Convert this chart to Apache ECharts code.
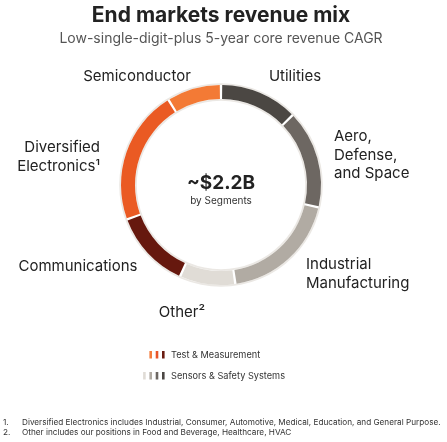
<!DOCTYPE html>
<html>
<head>
<meta charset="utf-8">
<script src="https://cdn.jsdelivr.net/npm/echarts@6/dist/echarts.min.js"></script>
<style>
  html, body { margin: 0; padding: 0; background: #fff; }
  #chart { width: 447px; height: 442px; }
</style>
</head>
<body>
<div id="chart"></div>
<script>
// end markets, clockwise from 12 o'clock (share of revenue, %)
var markets = ['Utilities', 'Aero,\nDefense,\nand Space', 'Industrial\nManufacturing', 'Other²',
               'Communications', 'Diversified\nElectronics¹', 'Semiconductor'];
var shares = [12.7, 15.9, 19.1, 9.0, 12.7, 21.8, 8.8];
var colors = ['#4b4743', '#6d6762', '#b1aba3', '#e0dcd6', '#66180e', '#ea5a23', '#f37a35'];

// where each label sits, and how it is aligned
var labelAnchor = [
  [295, 76, 'center'], [334, 155, 'left'], [306, 274, 'left'], [182, 312, 'center'],
  [78, 266, 'center'], [100, 157, 'right'], [137, 76, 'center']
];

var segments = [
  { name: 'Test & Measurement', colors: ['#f47c3c', '#e8552a', '#6b1d12'] },
  { name: 'Sensors & Safety Systems', colors: ['#e0dcd6', '#b1aba3', '#6d6762', '#4b4743'] }
];

var footnotes = [
  ['1.', 'Diversified Electronics includes Industrial, Consumer, Automotive, Medical, Education, and General Purpose.'],
  ['2.', 'Other includes our positions in Food and Beverage, Healthcare, HVAC']
];

var font = 'Inter, "Noto Sans", sans-serif';
var center = [221, 185];

document.addEventListener('DOMContentLoaded', function () {
  var myChart = echarts.init(document.getElementById('chart'));

  // custom legend with striped swatches
  var legendEls = [];
  segments.forEach(function (seg, i) {
    var y = 351 + i * 21;
    var n = seg.colors.length;
    seg.colors.forEach(function (c, j) {
      legendEls.push({
        type: 'rect',
        shape: { x: 162 - (n - 1 - j) * 6.3, y: y, width: 2.6, height: 7.5 },
        style: { fill: c }
      });
    });
    legendEls.push({
      type: 'text', x: 171, y: y + 4,
      style: { text: seg.name, font: '9.2px ' + font, fill: '#333', verticalAlign: 'middle' }
    });
  });

  footnotes.forEach(function (f, i) {
    var y = 423 + i * 9.5;
    legendEls.push({ type: 'text', x: 3, y: y,
      style: { text: f[0], font: '8.2px ' + font, fill: '#333', verticalAlign: 'middle' } });
    legendEls.push({ type: 'text', x: 22, y: y,
      style: { text: f[1], font: '8.2px ' + font, fill: '#333', verticalAlign: 'middle' } });
  });

  var option = {
    backgroundColor: '#fff',
    animation: false,
    title: [{
      text: 'End markets revenue mix',
      subtext: 'Low-single-digit-plus 5-year core revenue CAGR',
      left: 216,
      textAlign: 'center',
      top: 0,
      itemGap: 6,
      textStyle: { fontFamily: font, fontSize: 21, fontWeight: 'bold', color: '#222' },
      subtextStyle: { fontFamily: font, fontSize: 14, color: '#555' }
    }, {
      text: '~$2.2B',
      subtext: 'by Segments',
      left: 216, top: 169,
      textAlign: 'center',
      itemGap: 3,
      textStyle: { fontFamily: font, fontSize: 19, fontWeight: 'bold', color: '#222' },
      subtextStyle: { fontFamily: font, fontSize: 10, color: '#333' }
    }],
    graphic: legendEls,
    series: [
      {
        // thin light track around the ring
        type: 'pie', silent: true, center: center, radius: [100, 101.8],
        label: { show: false }, itemStyle: { color: '#ebe8e4' },
        data: [1]
      },
      {
        type: 'pie', silent: true, center: center, radius: [84.2, 86],
        label: { show: false }, itemStyle: { color: '#ebe8e4' },
        data: [1]
      },
      {
        name: 'End markets',
        type: 'pie',
        center: center,
        radius: [86, 100],
        startAngle: 90,
        clockwise: true,
        padAngle: 1.4,
        avoidLabelOverlap: false,
        label: {
          show: true,
          position: 'outside',
          formatter: '{b}',
          fontFamily: font,
          fontSize: 15,
          lineHeight: 18.5,
          color: '#222'
        },
        labelLine: { show: false },
        labelLayout: function (params) {
          var a = labelAnchor[params.dataIndex];
          return { x: a[0], y: a[1], align: a[2], verticalAlign: 'middle' };
        },
        data: markets.map(function (m, i) {
          return { name: m, value: shares[i], itemStyle: { color: colors[i] } };
        })
      }
    ]
  };

  myChart.setOption(option);
});
</script>
</body>
</html>
